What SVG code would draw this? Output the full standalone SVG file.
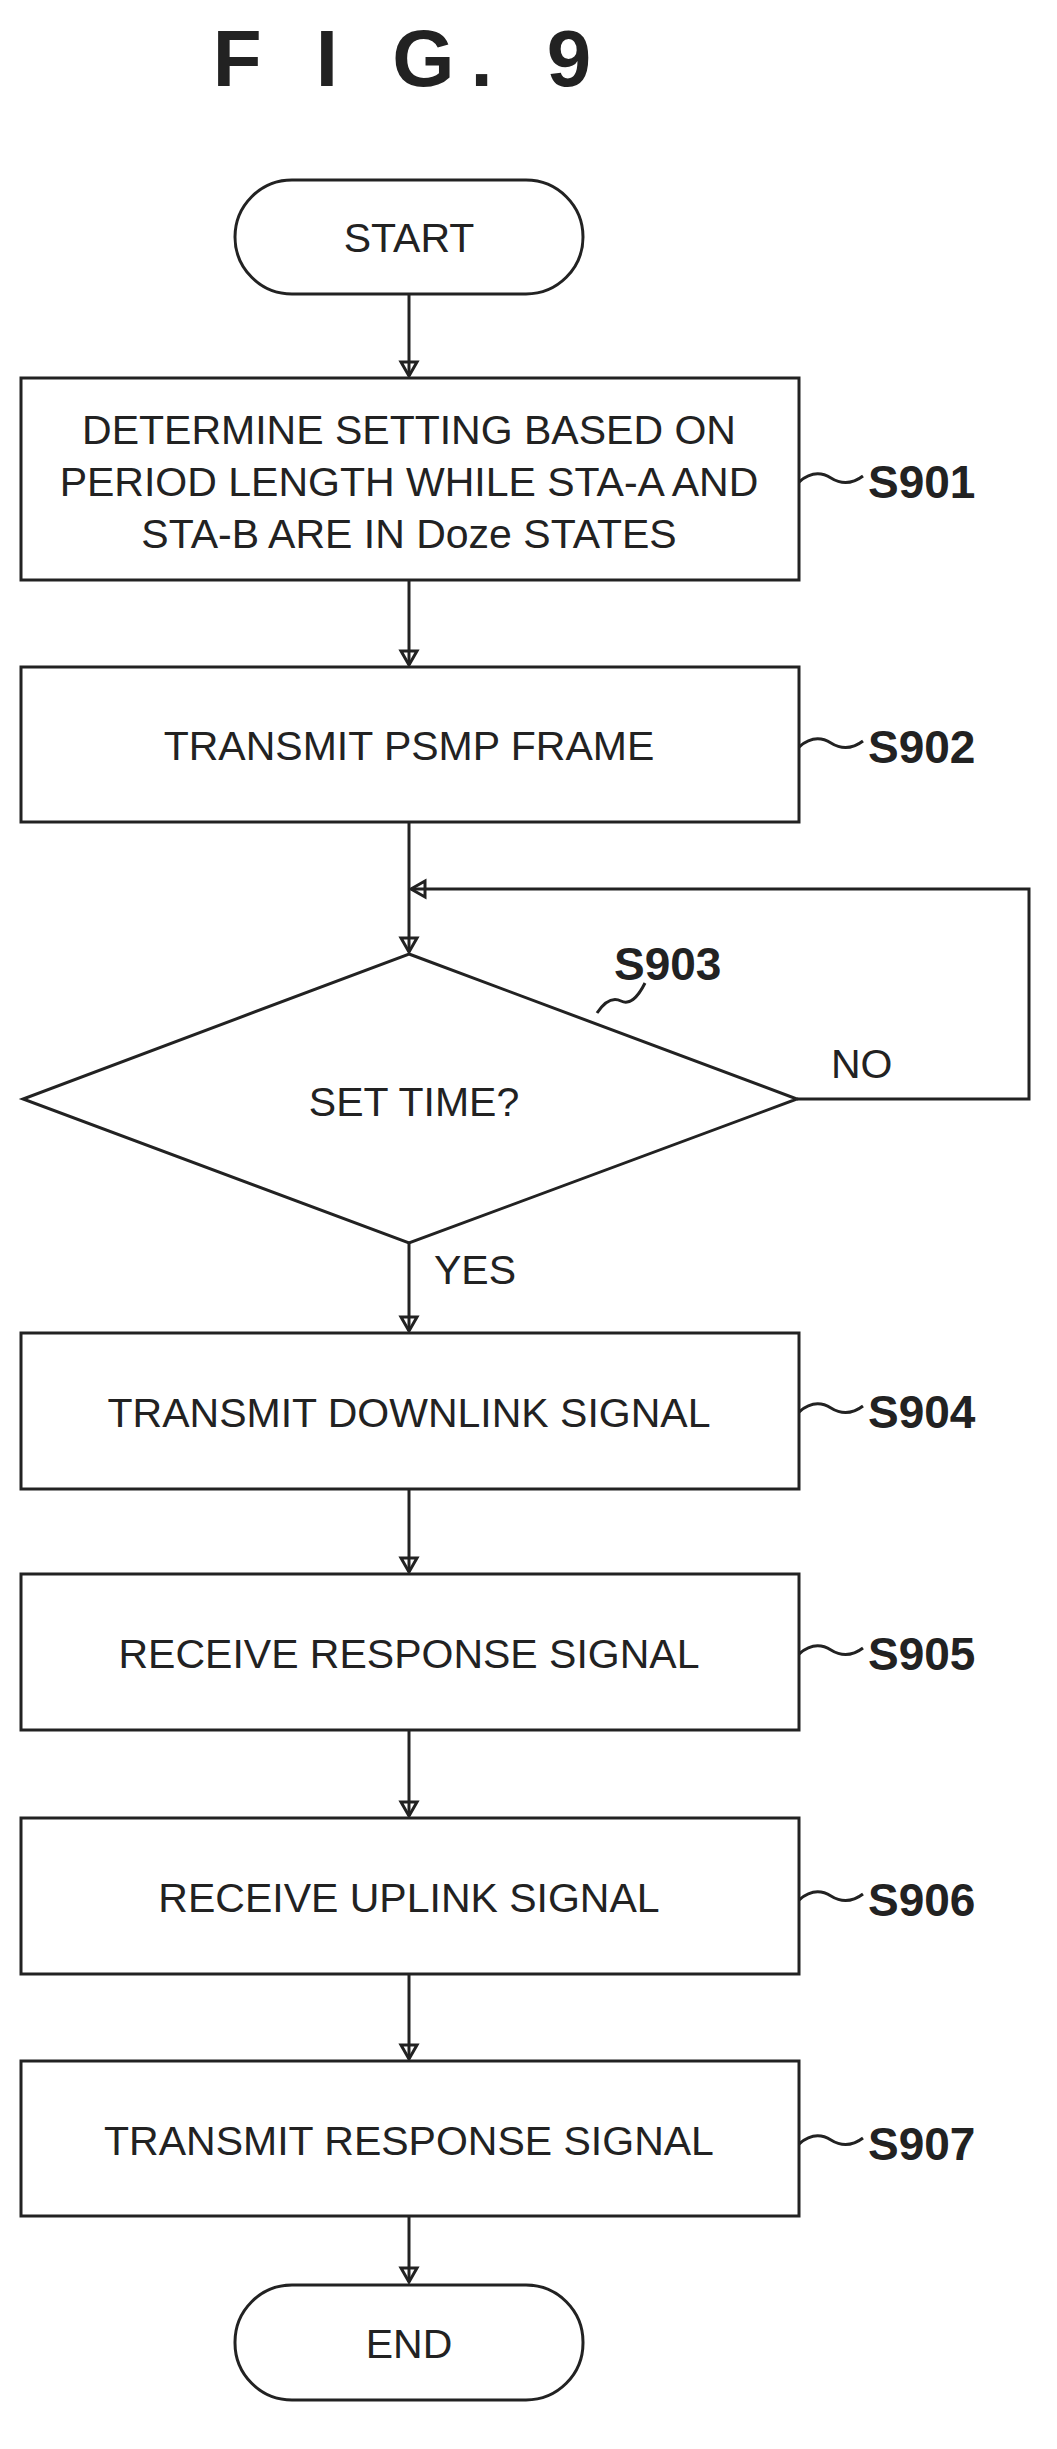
<svg xmlns="http://www.w3.org/2000/svg" width="1057" height="2449" viewBox="0 0 1057 2449">
<defs>
<style>
.s{fill:none;stroke:#222;stroke-width:3}
.t{font-family:"Liberation Sans",Arial,sans-serif;font-size:41px;fill:#222;text-anchor:middle}
.l{font-family:"Liberation Sans",Arial,sans-serif;font-size:46px;font-weight:bold;fill:#222}
</style>
</defs>
<rect width="1057" height="2449" fill="#fff"/>
<text x="410" y="86" font-family="Liberation Sans,Arial,sans-serif" font-size="80" font-weight="bold" fill="#222" text-anchor="middle" letter-spacing="16">F I G.  9</text>
<g id="connectors">
<line class="s" x1="409" y1="295" x2="409" y2="376"/>
<path d="M401,362 L409,376 L417,362 Z" class="s" stroke-width="2"/>
<line class="s" x1="409" y1="580" x2="409" y2="665"/>
<path d="M401,651 L409,665 L417,651 Z" class="s" stroke-width="2"/>
<line class="s" x1="409" y1="822" x2="409" y2="952"/>
<path d="M401,938 L409,952 L417,938 Z" class="s" stroke-width="2"/>
<polyline class="s" points="797,1099 1029,1099 1029,889 411,889"/>
<path d="M425,881 L411,889 L425,897 Z" class="s" stroke-width="2"/>
<line class="s" x1="409" y1="1243" x2="409" y2="1331"/>
<path d="M401,1317 L409,1331 L417,1317 Z" class="s" stroke-width="2"/>
<line class="s" x1="409" y1="1489" x2="409" y2="1572"/>
<path d="M401,1558 L409,1572 L417,1558 Z" class="s" stroke-width="2"/>
<line class="s" x1="409" y1="1730" x2="409" y2="1816"/>
<path d="M401,1802 L409,1816 L417,1802 Z" class="s" stroke-width="2"/>
<line class="s" x1="409" y1="1974" x2="409" y2="2059"/>
<path d="M401,2045 L409,2059 L417,2045 Z" class="s" stroke-width="2"/>
<line class="s" x1="409" y1="2216" x2="409" y2="2282"/>
<path d="M401,2268 L409,2282 L417,2268 Z" class="s" stroke-width="2"/>
<text class="t" x="831" y="1078" style="text-anchor:start">NO</text>
<text class="t" x="434" y="1284" style="text-anchor:start">YES</text>
</g>
<g id="start"><rect class="s" x="235" y="180" width="348" height="114" rx="57"/><text class="t" x="409" y="252">START</text></g>
<g id="s901"><rect class="s" x="21" y="378" width="778" height="202"/>
<text class="t" x="409" y="444">DETERMINE SETTING BASED ON</text>
<text class="t" x="409" y="496">PERIOD LENGTH WHILE STA-A AND</text>
<text class="t" x="409" y="548">STA-B ARE IN Doze STATES</text>
<path class="s" stroke-width="2" d="M799,482 q16,-14 32,-4 t32,-2"/><text class="l" x="868" y="498">S901</text></g>
<g id="s902"><rect class="s" x="21" y="667" width="778" height="155"/><text class="t" x="409" y="760">TRANSMIT PSMP FRAME</text>
<path class="s" stroke-width="2" d="M799,747 q16,-14 32,-4 t32,-2"/><text class="l" x="868" y="763">S902</text></g>
<g id="s903"><polygon class="s" points="409,954 797,1099 409,1243 23,1099"/><text class="t" x="414" y="1116">SET TIME?</text>
<path class="s" stroke-width="2" d="M597,1013 q12,-18 24,-12 t24,-18"/><text class="l" x="614" y="980">S903</text></g>
<g id="s904"><rect class="s" x="21" y="1333" width="778" height="156"/><text class="t" x="409" y="1427">TRANSMIT DOWNLINK SIGNAL</text>
<path class="s" stroke-width="2" d="M799,1412 q16,-14 32,-4 t32,-2"/><text class="l" x="868" y="1428">S904</text></g>
<g id="s905"><rect class="s" x="21" y="1574" width="778" height="156"/><text class="t" x="409" y="1668">RECEIVE RESPONSE SIGNAL</text>
<path class="s" stroke-width="2" d="M799,1654 q16,-14 32,-4 t32,-2"/><text class="l" x="868" y="1670">S905</text></g>
<g id="s906"><rect class="s" x="21" y="1818" width="778" height="156"/><text class="t" x="409" y="1912">RECEIVE UPLINK SIGNAL</text>
<path class="s" stroke-width="2" d="M799,1900 q16,-14 32,-4 t32,-2"/><text class="l" x="868" y="1916">S906</text></g>
<g id="s907"><rect class="s" x="21" y="2061" width="778" height="155"/><text class="t" x="409" y="2155">TRANSMIT RESPONSE SIGNAL</text>
<path class="s" stroke-width="2" d="M799,2144 q16,-14 32,-4 t32,-2"/><text class="l" x="868" y="2160">S907</text></g>
<g id="end"><rect class="s" x="235" y="2285" width="348" height="115" rx="57"/><text class="t" x="409" y="2358">END</text></g>
</svg>
